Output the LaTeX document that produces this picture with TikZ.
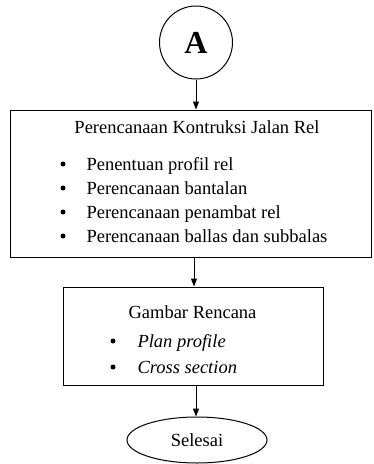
\documentclass[tikz,border=0pt]{standalone}
\usepackage{fontspec}
\setmainfont{Liberation Serif}
\usetikzlibrary{arrows.meta,shapes.geometric}
\begin{document}
\begin{tikzpicture}[x=1pt,y=-1pt,
  line width=1pt,
  txt/.style={font=\fontsize{18.5}{22}\selectfont, inner sep=0pt, anchor=base west},
  ctxt/.style={font=\fontsize{18.5}{22}\selectfont, inner sep=0pt, anchor=base},
  bul/.style={circle, fill=black, inner sep=0pt, minimum size=5pt},
  arr/.style={-{Triangle[length=8pt,width=6pt]}, line width=1pt}
]
\useasboundingbox (0,0) rectangle (374,464);
% connector A
\node[circle, draw, minimum size=73pt, inner sep=0pt, font=\fontsize{32}{36}\selectfont\bfseries] (A) at (196,42.5) {A};
% box 1
\node[draw, rectangle, minimum width=361pt, minimum height=147pt, inner sep=0pt] (b1) at (190.5,183.5) {};
\node[ctxt] (t1) at (197,133.5) {Perencanaan Kontruksi Jalan Rel};
\node[bul] (u1) at (63,164) {};
\node[bul] (u2) at (63,188) {};
\node[bul] (u3) at (63,212) {};
\node[bul] (u4) at (63,236) {};
\node[txt] (i1) at (86,170) {Penentuan profil rel};
\node[txt] (i2) at (86,194) {Perencanaan bantalan};
\node[txt] (i3) at (86,218) {Perencanaan penambat rel};
\node[txt] (i4) at (86,242) {Perencanaan ballas dan subbalas};
% box 2
\node[draw, rectangle, minimum width=260pt, minimum height=98pt, inner sep=0pt] (b2) at (193,336) {};
\node[ctxt] (t2) at (192.5,318.5) {Gambar Rencana};
\node[bul] (v1) at (113,341) {};
\node[bul] (v2) at (113,367) {};
\node[txt] (j1) at (137,347.5) {\itshape Plan profile};
\node[txt] (j2) at (137,373.5) {\itshape Cross section};
% end
\node[ellipse, draw, minimum width=140pt, minimum height=46pt, inner sep=0pt, font=\fontsize{18.5}{22}\selectfont] (E) at (197,440) {Selesai};
% connectors
\draw[arr] (A.south) -- (A.south |- b1.north);
\draw[arr] (194,0 |- b1.south) -- (194,0 |- b2.north);
\draw[arr] (196,0 |- b2.south) -- (196,0 |- E.north);
\end{tikzpicture}
\end{document}
